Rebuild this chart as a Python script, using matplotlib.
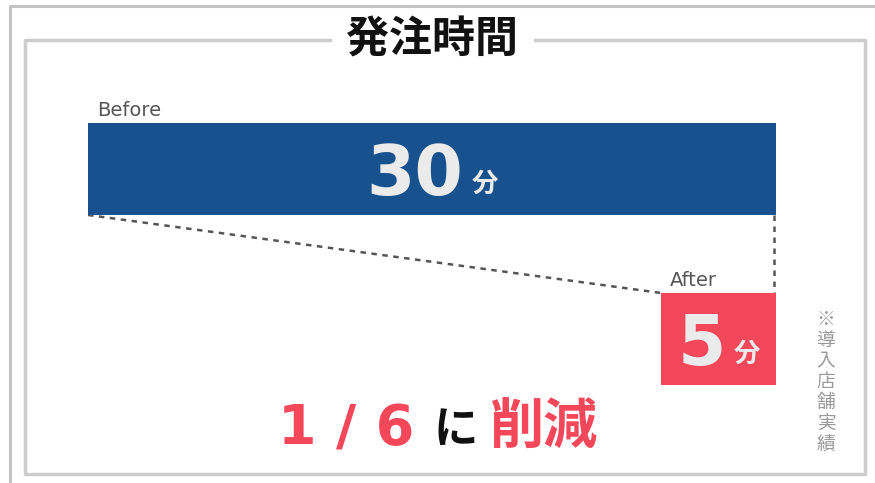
import matplotlib
matplotlib.use('Agg')
import matplotlib.pyplot as plt
from matplotlib.lines import Line2D

W, H = 875, 483

title = "発注時間"
labels = ["Before", "After"]
minutes = [30, 5]
unit = "分"
ratio_parts = ["1 / 6", "に", "削減"]
note = "※導入店舗実績"

BLUE = "#17528f"
RED = "#f4475a"
GRAY_LINE = "#cdcdcd"
CJK = ["Noto Sans CJK JP", "DejaVu Sans"]

fig = plt.figure(figsize=(W / 100, H / 100), dpi=100)

# background layer in pixel coordinates: frames, title, free text
bg = fig.add_axes([0, 0, 1, 1])
bg.set_xlim(0, W)
bg.set_ylim(H, 0)
bg.axis("off")

# outer border (top and left edges only are visible)
bg.add_line(Line2D([10, 10, W], [H, 6, 6], color="#c4c4c4", lw=2.2))
# inner frame with an opening for the title
fx0, fx1, fy0, fy1 = 25, 865, 40, 474
bg.add_line(Line2D([330, fx0, fx0, fx1, fx1, 535],
                   [fy0, fy0, fy1, fy1, fy0, fy0],
                   color=GRAY_LINE, lw=2.5))

bg.text(432, 53, title, family=CJK, fontsize=31, fontweight="bold",
        ha="center", va="baseline", color="#111111")

# bar layer: x in minutes, bars share the right edge
bar_h = 0.541
ax = fig.add_axes([88 / W, 1 - 385 / H, 688 / W, 262 / H])
ax.set_xlim(0, minutes[0])
ax.set_ylim(1 + bar_h / 2, -bar_h / 2)
ax.axis("off")
ax.patch.set_alpha(0)

pos = list(range(len(minutes)))
lefts = [minutes[0] - m for m in minutes]
ax.barh(pos, minutes, left=lefts, height=bar_h,
        color=[BLUE, RED], zorder=2)

# connecting dashed guides
dash = dict(color="#555555", lw=1.8, linestyle=(0, (2.2, 2.2)), clip_on=False, zorder=1)
ax.plot([0, lefts[1]], [pos[0] + bar_h / 2, pos[1] - bar_h / 2], **dash)
ax.plot([minutes[0] - 0.1, minutes[0] - 0.1],
        [pos[0] + bar_h / 2, pos[1] - bar_h / 2], **dash)

# category labels above each bar
for p, l, lab in zip(pos, lefts, labels):
    ax.annotate(lab, xy=(l, p - bar_h / 2), xytext=(9, 7),
                textcoords="offset pixels", fontsize=14, color="#555555",
                ha="left", va="baseline")

# value labels: big number + small unit, centred as a group
fig.canvas.draw()
r = fig.canvas.get_renderer()
gap = 8
for p, l, m in zip(pos, lefts, minutes):
    cx = l + m / 2
    num = ax.annotate(str(m), xy=(cx, p), xytext=(0, -26), textcoords="offset pixels",
                      fontsize=50, fontweight="bold", color="#ebebeb",
                      ha="right", va="baseline", zorder=3)
    u = ax.annotate(unit, xy=(cx, p), xytext=(0, -23), textcoords="offset pixels",
                    family=CJK, fontsize=19, fontweight="bold", color="#ebebeb",
                    ha="left", va="baseline", zorder=3)
    wn = num.get_window_extent(r).width
    wu = u.get_window_extent(r).width
    total = wn + gap + wu
    num.set_position((-total / 2 + wn, -26))
    u.set_position((-total / 2 + wn + gap, -23))

# result line
bg.text(278, 445, ratio_parts[0], fontsize=40, fontweight="bold", color=RED,
        ha="left", va="baseline")
bg.text(434, 443, ratio_parts[1], family=CJK, fontsize=32, fontweight="bold",
        color="#111111", ha="left", va="baseline")
bg.text(490, 444, ratio_parts[2], family=CJK, fontsize=39, fontweight="bold",
        color=RED, ha="left", va="baseline")

# vertical footnote
bg.text(826, 382, "\n".join(note), family=CJK, fontsize=13.5, color="#9a9a9a",
        ha="center", va="center", linespacing=0.98)

fig.savefig("out.png", dpi=100)
plt.close(fig)
